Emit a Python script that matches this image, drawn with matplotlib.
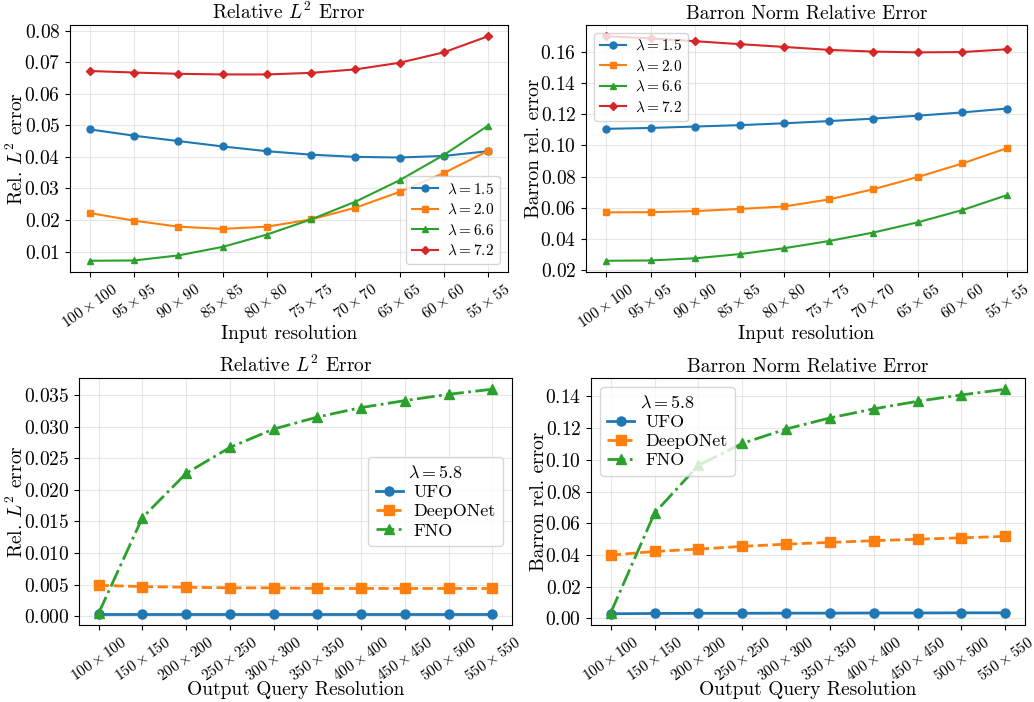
import matplotlib
matplotlib.use("Agg")
import matplotlib.pyplot as plt
from matplotlib.ticker import MultipleLocator

plt.rcParams['font.family'] = 'serif'
plt.rcParams['font.serif'] = ['cmr10', 'DejaVu Serif']
plt.rcParams['mathtext.fontset'] = 'cm'
plt.rcParams['axes.formatter.use_mathtext'] = True
plt.rcParams['axes.unicode_minus'] = False

input_res = [100, 95, 90, 85, 80, 75, 70, 65, 60, 55]
output_res = [100, 150, 200, 250, 300, 350, 400, 450, 500, 550]
input_labels = [rf"${r}\times{r}$" for r in input_res]
output_labels = [rf"${r}\times{r}$" for r in output_res]

lambdas = ["1.5", "2.0", "6.6", "7.2"]
l2_input = {
    "1.5": [0.0487, 0.0467, 0.0450, 0.0433, 0.0418, 0.0407, 0.0400, 0.0398, 0.0403, 0.0418],
    "2.0": [0.0222, 0.0198, 0.0179, 0.0172, 0.0179, 0.0202, 0.0239, 0.0289, 0.0349, 0.0419],
    "6.6": [0.0071, 0.0072, 0.0088, 0.0115, 0.0154, 0.0202, 0.0258, 0.0326, 0.0406, 0.0499],
    "7.2": [0.0672, 0.0667, 0.0663, 0.0661, 0.0661, 0.0666, 0.0677, 0.0698, 0.0731, 0.0782],
}
barron_input = {
    "1.5": [0.1107, 0.1113, 0.1122, 0.1131, 0.1143, 0.1157, 0.1173, 0.1192, 0.1213, 0.1238],
    "2.0": [0.0569, 0.0570, 0.0577, 0.0591, 0.0607, 0.0652, 0.0718, 0.0797, 0.0884, 0.0983],
    "6.6": [0.0257, 0.0259, 0.0273, 0.0300, 0.0338, 0.0384, 0.0439, 0.0505, 0.0584, 0.0680],
    "7.2": [0.1704, 0.1690, 0.1672, 0.1653, 0.1635, 0.1616, 0.1605, 0.1600, 0.1602, 0.1620],
}

models = ["UFO", "DeepONet", "FNO"]
l2_output = {
    "UFO": [0.0004, 0.0004, 0.0004, 0.0004, 0.0004, 0.0004, 0.0004, 0.0004, 0.0004, 0.0004],
    "DeepONet": [0.0049, 0.0047, 0.0046, 0.0045, 0.0045, 0.0044, 0.0044, 0.0044, 0.0044, 0.0044],
    "FNO": [0.0005, 0.0156, 0.0226, 0.0267, 0.0296, 0.0315, 0.0330, 0.0341, 0.0351, 0.0359],
}
barron_output = {
    "UFO": [0.0029, 0.0031, 0.0032, 0.0032, 0.0033, 0.0033, 0.0034, 0.0034, 0.0035, 0.0035],
    "DeepONet": [0.0399, 0.0422, 0.0437, 0.0454, 0.0468, 0.0479, 0.0490, 0.0499, 0.0508, 0.0517],
    "FNO": [0.0035, 0.0664, 0.0965, 0.1103, 0.1194, 0.1264, 0.1321, 0.1369, 0.1409, 0.1445],
}

colors4 = ["#1f77b4", "#ff7f0e", "#2ca02c", "#d62728"]
markers4 = ["o", "s", "^", "D"]
styles3 = ["-", "--", "-."]

W, H = 1034, 702
fig, axes = plt.subplots(2, 2, figsize=(W / 100, H / 100), dpi=100)

def place(ax, x0, x1, y0, y1, ylab_px, xlab_px):
    ax.set_position([x0 / W, 1 - y1 / H, (x1 - x0) / W, (y1 - y0) / H])
    ax.yaxis.set_label_coords((ylab_px - x0) / (x1 - x0), 0.5)
    ax.xaxis.set_label_coords(0.5, (y1 - xlab_px) / (y1 - y0))

def style_axes(ax, labels, title, ylabel, xlabel, step):
    x = list(range(len(labels)))
    ax.set_xticks(x)
    ax.set_xticklabels(labels, rotation=35, ha="center", fontsize=11)
    ax.yaxis.set_major_locator(MultipleLocator(step))
    ax.set_title(title, fontsize=14, pad=4)
    ax.set_ylabel(ylabel, fontsize=14)
    ax.set_xlabel(xlabel, fontsize=14)
    ax.grid(True, alpha=0.3)
    ax.tick_params(axis="y", labelsize=14)

def top_panel(ax, data, title, ylabel, legend_loc, step):
    x = list(range(len(input_labels)))
    for lam, c, m in zip(lambdas, colors4, markers4):
        ax.plot(x, data[lam], color=c, marker=m, lw=1.5, ms=5 if m != "D" else 4.5,
                label=rf"$\lambda = {lam}$")
    style_axes(ax, input_labels, title, ylabel, "Input resolution", step)
    ax.legend(loc=legend_loc, fontsize=11, handlelength=1.7, borderpad=0.4,
              labelspacing=0.4, handletextpad=0.6)

def bottom_panel(ax, data, title, ylabel, legend_loc, step):
    x = list(range(len(output_labels)))
    for mdl, c, m, ls in zip(models, colors4[:3], markers4[:3], styles3):
        ax.plot(x, data[mdl], color=c, marker=m, ls=ls, lw=2, ms=6.5, label=mdl)
    style_axes(ax, output_labels, title, ylabel, "Output Query Resolution", step)
    ax.legend(loc=legend_loc, fontsize=13, title=r"$\lambda = 5.8$", title_fontsize=13,
              handlelength=1.5, labelspacing=0.2, borderpad=0.4, handletextpad=0.6)

top_panel(axes[0, 0], l2_input, r"Relative $L^2$ Error", r"Rel. $L^2$ error", "lower right", 0.01)
top_panel(axes[0, 1], barron_input, "Barron Norm Relative Error", "Barron rel. error", "upper left", 0.02)
bottom_panel(axes[1, 0], l2_output, r"Relative $L^2$ Error", r"Rel. $L^2$ error", "center right", 0.005)
bottom_panel(axes[1, 1], barron_output, "Barron Norm Relative Error", "Barron rel. error", "upper left", 0.02)

place(axes[0, 0], 70, 508, 25, 272, 27, 325)
place(axes[0, 1], 586, 1027, 25, 272, 543, 325)
place(axes[1, 0], 79, 512, 378, 625, 27, 681)
place(axes[1, 1], 591, 1025, 378, 625, 548, 681)

fig.savefig("out.png", dpi=100)
